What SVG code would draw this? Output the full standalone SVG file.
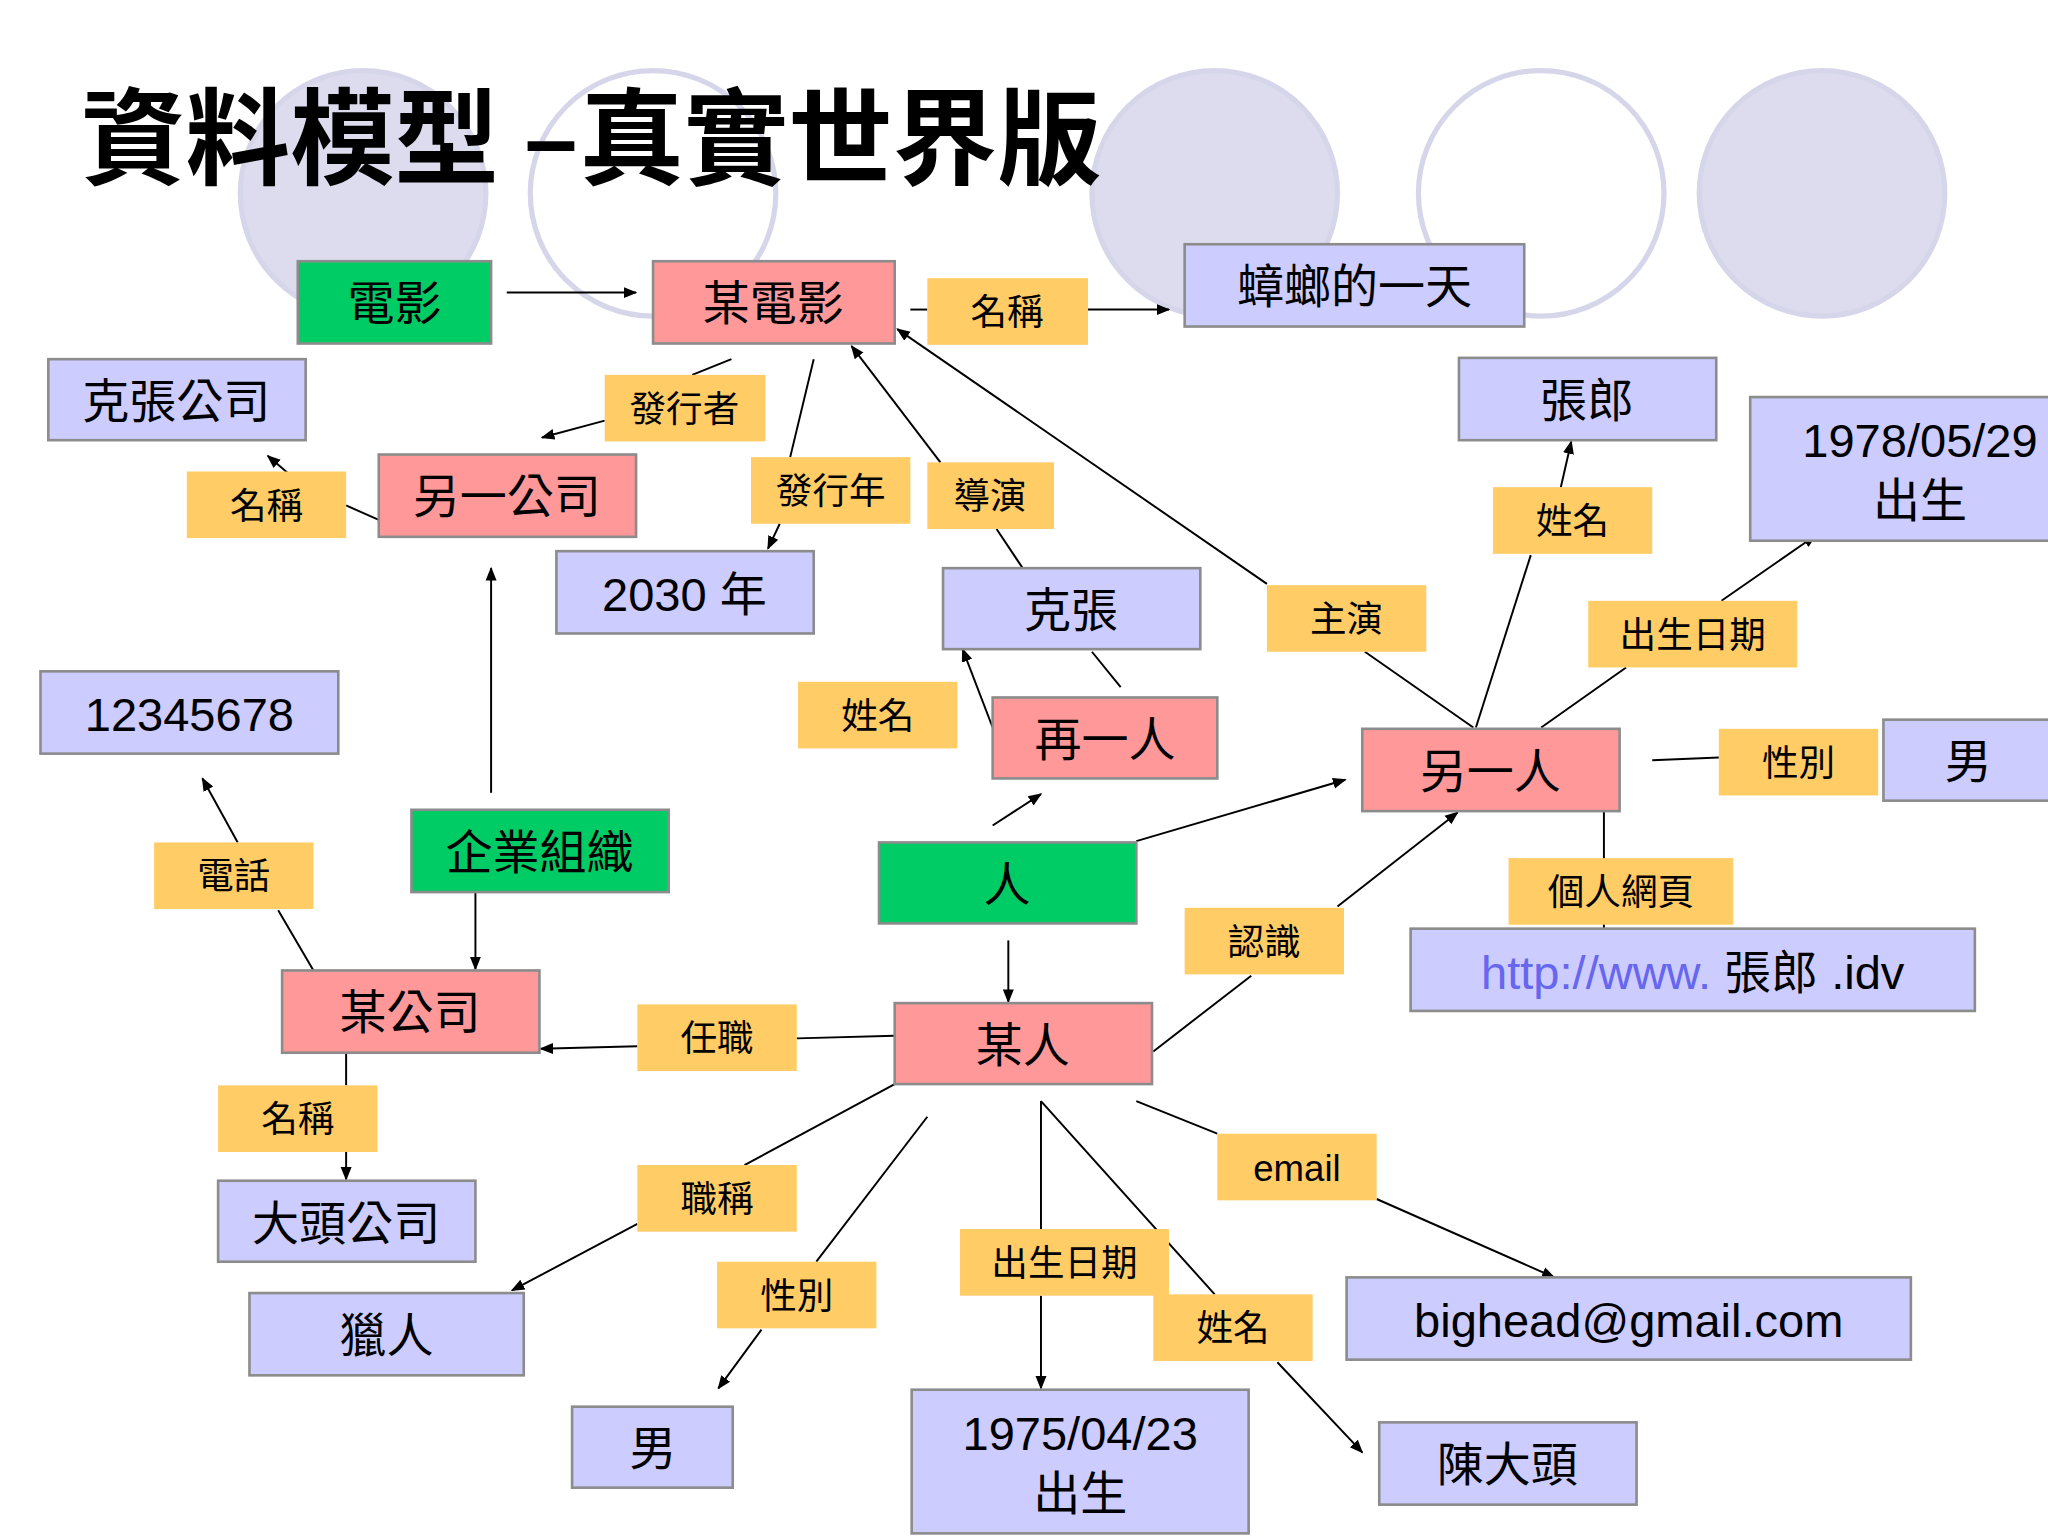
<svg xmlns="http://www.w3.org/2000/svg" width="2048" height="1536" viewBox="0 0 2048 1536">
<defs>
<marker id="a" viewBox="0 0 10 10" refX="9" refY="5" markerWidth="7" markerHeight="7" orient="auto"><path d="M0,1 L10,5 L0,9 z" fill="#000"/></marker>
<style>
rect{stroke:#8c8c8c;stroke-width:2}
.p{fill:#ff9999}.b{fill:#ccccff}.y{fill:#ffcc66;stroke:none}.g{fill:#00cc66}
text{font-family:"Liberation Sans","Noto Sans CJK TC",sans-serif;text-anchor:middle;fill:#000}
.L{font-size:36px}.S{font-size:28px}
#c line{stroke:#000;stroke-width:1.5}
.ar{marker-end:url(#a)}
</style>
</defs>
<rect width="2048" height="1536" fill="#fff" style="stroke:none"/>
<g transform="scale(1.30612)">
<g id="bg" fill="#dcdcee" stroke="#d6d6ea" stroke-width="4">
<circle cx="278" cy="148" r="94"/><circle cx="500" cy="148" r="94" fill="none"/><circle cx="930" cy="148" r="94"/><circle cx="1180" cy="148" r="94" fill="none"/><circle cx="1395" cy="148" r="94"/>
</g>
<text x="62" y="135" style="font-size:80px;text-anchor:start;font-family:'Noto Sans CJK TC',sans-serif;font-weight:bold">資料模型 –真實世界版</text>
<g id="c">
<line class="ar" x1="388" y1="224" x2="487" y2="224"/>
<line x1="697" y1="237" x2="710" y2="237"/><line class="ar" x1="833" y1="237" x2="895" y2="237"/>
<line x1="560" y1="275" x2="530" y2="287"/><line class="ar" x1="463" y1="322" x2="415" y2="335"/>
<line x1="623" y1="275" x2="605" y2="350"/><line class="ar" x1="597" y1="401" x2="588" y2="420"/>
<line class="ar" x1="720" y1="354" x2="652" y2="265"/><line x1="763" y1="405" x2="783" y2="435"/>
<line class="ar" x1="970" y1="447" x2="687" y2="252"/><line x1="1045" y1="499" x2="1128" y2="557"/>
<line x1="290" y1="398" x2="265" y2="387"/><line class="ar" x1="262" y1="398" x2="205" y2="349"/>
<line class="ar" x1="376" y1="607" x2="376" y2="435"/>
<line class="ar" x1="364" y1="683" x2="364" y2="742"/>
<line x1="240" y1="743" x2="213" y2="697"/><line class="ar" x1="182" y1="645" x2="155" y2="596"/>
<line x1="685" y1="793" x2="610" y2="795"/><line class="ar" x1="488" y1="801" x2="414" y2="803"/>
<line x1="265" y1="806" x2="265" y2="831"/><line class="ar" x1="265" y1="882" x2="265" y2="903"/>
<line x1="685" y1="830" x2="570" y2="892"/><line class="ar" x1="488" y1="937" x2="392" y2="988"/>
<line x1="710" y1="855" x2="625" y2="966"/><line class="ar" x1="583" y1="1018" x2="550" y2="1063"/>
<line x1="797" y1="843" x2="797" y2="941"/><line class="ar" x1="797" y1="992" x2="797" y2="1063"/>
<line x1="797" y1="843" x2="930" y2="991"/><line class="ar" x1="978" y1="1043" x2="1043" y2="1112"/>
<line x1="870" y1="843" x2="932" y2="868"/><line class="ar" x1="1054" y1="918" x2="1190" y2="978"/>
<line x1="883" y1="805" x2="958" y2="747"/><line class="ar" x1="1024" y1="694" x2="1116" y2="622"/>
<line class="ar" x1="760" y1="632" x2="797" y2="608"/>
<line class="ar" x1="870" y1="644" x2="1030" y2="597"/>
<line class="ar" x1="772" y1="720" x2="772" y2="767"/>
<line x1="858" y1="526" x2="836" y2="499"/><line class="ar" x1="760" y1="557" x2="737" y2="497"/>
<line x1="1130" y1="557" x2="1172" y2="425"/><line class="ar" x1="1195" y1="373" x2="1203" y2="338"/>
<line x1="1180" y1="557" x2="1245" y2="511"/><line class="ar" x1="1318" y1="460" x2="1390" y2="410"/>
<line x1="1265" y1="582" x2="1316" y2="580"/>
<line x1="1228" y1="621" x2="1228" y2="711"/>
</g>
<g id="n1"><rect class="g" x="228" y="200" width="148" height="63"/><text class="L" x="302" y="245">電影</text></g>
<g id="n2"><rect class="p" x="500" y="200" width="185" height="63"/><text class="L" x="592" y="245">某電影</text></g>
<g id="n3"><rect class="y" x="710" y="213" width="123" height="51"/><text class="S" x="771" y="249">名稱</text></g>
<g id="n4"><rect class="b" x="907" y="187" width="260" height="63"/><text class="L" x="1037" y="232">蟑螂的一天</text></g>
<g id="n5"><rect class="b" x="37" y="275" width="197" height="62"/><text class="L" x="135" y="320">克張公司</text></g>
<g id="n6"><rect class="y" x="463" y="287" width="123" height="51"/><text class="S" x="524" y="323">發行者</text></g>
<g id="n7"><rect class="b" x="1117" y="274" width="197" height="63"/><text class="L" x="1215" y="319">張郎</text></g>
<g id="n8"><rect class="b" x="1340" y="304" width="240" height="110"/><text class="L" x="1470" y="350">1978/05/29</text><text class="L" x="1470" y="396">出生</text></g>
<g id="n9"><rect class="y" x="143" y="361" width="122" height="51"/><text class="S" x="204" y="397">名稱</text></g>
<g id="n10"><rect class="p" x="290" y="348" width="197" height="63"/><text class="L" x="388" y="393">另一公司</text></g>
<g id="n11"><rect class="y" x="575" y="350" width="122" height="51"/><text class="S" x="636" y="386">發行年</text></g>
<g id="n12"><rect class="y" x="710" y="354" width="97" height="51"/><text class="S" x="758" y="390">導演</text></g>
<g id="n13"><rect class="y" x="1143" y="373" width="122" height="51"/><text class="S" x="1204" y="409">姓名</text></g>
<g id="n14"><rect class="b" x="426" y="422" width="197" height="63"/><text class="L" x="524" y="468">2030 年</text></g>
<g id="n15"><rect class="b" x="722" y="435" width="197" height="62"/><text class="L" x="820" y="480">克張</text></g>
<g id="n16"><rect class="y" x="970" y="448" width="122" height="51"/><text class="S" x="1031" y="484">主演</text></g>
<g id="n17"><rect class="y" x="1216" y="460" width="160" height="51"/><text class="S" x="1296" y="496">出生日期</text></g>
<g id="n18"><rect class="b" x="31" y="514" width="228" height="63"/><text class="L" x="145" y="560">12345678</text></g>
<g id="n19"><rect class="y" x="611" y="522" width="122" height="51"/><text class="S" x="672" y="558">姓名</text></g>
<g id="n20"><rect class="p" x="760" y="534" width="172" height="62"/><text class="L" x="846" y="579">再一人</text></g>
<g id="n21"><rect class="p" x="1043" y="558" width="197" height="63"/><text class="L" x="1141" y="603">另一人</text></g>
<g id="n22"><rect class="y" x="1316" y="558" width="122" height="51"/><text class="S" x="1377" y="594">性別</text></g>
<g id="n23"><rect class="b" x="1442" y="551" width="130" height="62"/><text class="L" x="1507" y="596">男</text></g>
<g id="n24"><rect class="g" x="315" y="620" width="197" height="63"/><text class="L" x="413" y="665">企業組織</text></g>
<g id="n25"><rect class="y" x="118" y="645" width="122" height="51"/><text class="S" x="179" y="681">電話</text></g>
<g id="n26"><rect class="g" x="673" y="645" width="197" height="62"/><text class="L" x="771" y="690">人</text></g>
<g id="n27"><rect class="y" x="1155" y="657" width="172" height="51"/><text class="S" x="1241" y="693">個人網頁</text></g>
<g id="n28"><rect class="y" x="907" y="695" width="122" height="51"/><text class="S" x="968" y="731">認識</text></g>
<g id="n29"><rect class="b" x="1080" y="711" width="432" height="63"/><text class="L" x="1296" y="757"><tspan fill="#6666ee">http://www.</tspan> 張郎 .idv</text></g>
<g id="n30"><rect class="p" x="216" y="743" width="197" height="63"/><text class="L" x="314" y="788">某公司</text></g>
<g id="n31"><rect class="y" x="488" y="769" width="122" height="51"/><text class="S" x="549" y="805">任職</text></g>
<g id="n32"><rect class="p" x="685" y="768" width="197" height="62"/><text class="L" x="783" y="813">某人</text></g>
<g id="n33"><rect class="y" x="167" y="831" width="122" height="51"/><text class="S" x="228" y="867">名稱</text></g>
<g id="n34"><rect class="y" x="932" y="868" width="122" height="51"/><text class="S" x="993" y="904">email</text></g>
<g id="n35"><rect class="y" x="488" y="892" width="122" height="51"/><text class="S" x="549" y="928">職稱</text></g>
<g id="n36"><rect class="b" x="167" y="904" width="197" height="62"/><text class="L" x="265" y="949">大頭公司</text></g>
<g id="n37"><rect class="y" x="735" y="941" width="160" height="51"/><text class="S" x="815" y="977">出生日期</text></g>
<g id="n38"><rect class="y" x="549" y="966" width="122" height="51"/><text class="S" x="610" y="1002">性別</text></g>
<g id="n39"><rect class="b" x="1031" y="978" width="432" height="63"/><text class="L" x="1247" y="1024">bighead@gmail.com</text></g>
<g id="n40"><rect class="b" x="191" y="990" width="210" height="63"/><text class="L" x="296" y="1035">獵人</text></g>
<g id="n41"><rect class="y" x="883" y="991" width="122" height="51"/><text class="S" x="944" y="1027">姓名</text></g>
<g id="n42"><rect class="b" x="438" y="1077" width="123" height="62"/><text class="L" x="500" y="1122">男</text></g>
<g id="n43"><rect class="b" x="698" y="1064" width="258" height="110"/><text class="L" x="827" y="1110">1975/04/23</text><text class="L" x="827" y="1156">出生</text></g>
<g id="n44"><rect class="b" x="1056" y="1089" width="197" height="63"/><text class="L" x="1154" y="1134">陳大頭</text></g>
</g>
</svg>
